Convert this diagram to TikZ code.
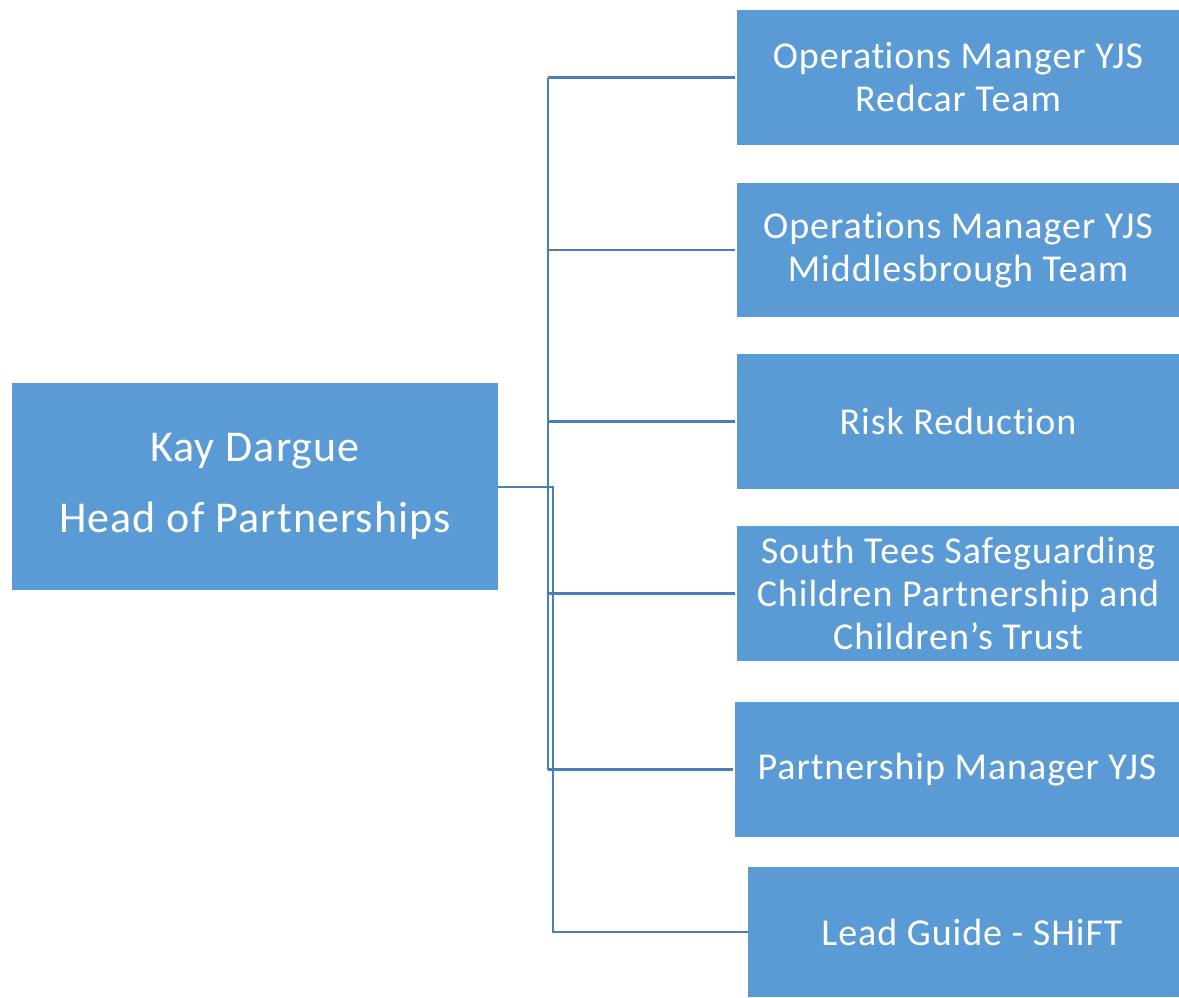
\documentclass[tikz,border=0pt]{standalone}
\usepackage{fontspec}
\setmainfont{Carlito}[LetterSpace=2.5,RawFeature={-liga;-clig;-calt;-dlig}]
\definecolor{boxblue}{HTML}{5B9BD5}
\definecolor{lineblue}{HTML}{4A7EBB}
\newcommand\nolig{\kern0pt{}}
\begin{document}
\begin{tikzpicture}[x=1pt,y=-1pt,
  box/.style={fill=boxblue,draw=none,text=white,inner sep=0pt,align=center,font=\fontsize{38}{43}\selectfont},
  conn/.style={draw=lineblue,line width=2.2pt}]
\useasboundingbox (0,0) rectangle (1179,997);
\node[box,minimum width=486,minimum height=207,font=\fontsize{44}{71}\selectfont] (kay) at (255,486.5) {Kay Dargue\\Head of Partnerships};
\node[box,minimum width=442,minimum height=135] (b1) at (958,77.5) {Operat\nolig ions Manger YJS\\Redcar Team};
\node[box,minimum width=442,minimum height=134] (b2) at (958,250) {Operat\nolig ions Manager YJS\\Middlesbrough Team};
\node[box,minimum width=442,minimum height=135] (b3) at (958,421.5) {Risk Reduct\nolig ion};
\node[box,minimum width=442,minimum height=135] (b4) at (958,593.5) {South Tees Safeguarding\\Children Partnership and\\Children’s Trust};
\node[box,minimum width=444,minimum height=135] (b5) at (957,769.5) {Partnership Manager YJS};
\node[box,minimum width=431,minimum height=130] (b6) at (963.5,932) {\hspace*{17pt}Lead Guide - SHiFT};
\coordinate (j) at (548,487);
\coordinate (k) at (553,487);
\draw[conn] (kay.east |- j) -- (k) |- (b6.west);
\draw[conn] (j |- b1.west) -- (j |- b5.west);
\foreach \b in {b1,b2,b3,b4,b5}{
  \draw[conn] (j |- \b.west) -- ([xshift=-2]\b.west);
}
\end{tikzpicture}
\end{document}
